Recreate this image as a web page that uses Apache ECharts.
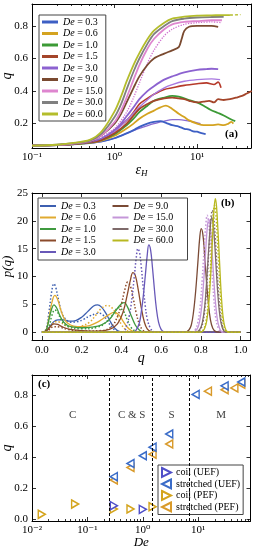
<!DOCTYPE html>
<html><head><meta charset="utf-8">
<script src="https://cdn.jsdelivr.net/npm/echarts@6/dist/echarts.min.js"></script>
<style>html,body{margin:0;padding:0;background:#fff}#c{width:257px;height:550px}</style>
</head><body><div id="c"></div>
<script>
// ---------------- Panel (a): q vs strain eps_H ----------------
const deLabels = ['0.3','0.6','1.0','1.5','3.0','9.0','15.0','30.0','60.0'];
const colorsA = ['#3d5fc4','#d4a320','#3c9a36','#a4452a','#8c62d0','#7a4a30','#de86cf','#808080','#b4bd2c'];
const epsA03 = [0.1,0.2,0.3,0.5,0.7,1.0,1.4,1.7,2.0,2.5,3.0,3.6,4.2,5,6,7,8,9,10,11,12.7];
const qA03   = [0.065,0.068,0.072,0.08,0.09,0.11,0.14,0.16,0.18,0.2,0.21,0.215,0.205,0.19,0.182,0.168,0.163,0.152,0.15,0.143,0.135];
const epsA06 = [0.1,0.2,0.3,0.5,0.7,1.0,1.4,1.7,2.0,2.5,3.0,3.6,4.2,5,6,7,8,10,12,15,18,21,24,26,27.5];
const qA06   = [0.065,0.068,0.073,0.082,0.095,0.125,0.17,0.2,0.23,0.26,0.28,0.3,0.31,0.29,0.26,0.24,0.22,0.2,0.19,0.19,0.195,0.19,0.2,0.21,0.2];
const epsA10 = [0.1,0.2,0.3,0.5,0.7,1.0,1.4,1.7,2.0,2.5,3,4,5,6,8,10,12,14.5,18,21,26,29];
const qA10   = [0.065,0.068,0.073,0.083,0.1,0.135,0.19,0.23,0.27,0.31,0.34,0.36,0.37,0.365,0.345,0.33,0.31,0.285,0.265,0.25,0.225,0.215];
const epsA15 = [0.1,0.2,0.3,0.5,0.7,1.0,1.4,1.7,2.0,2.5,3,4,5,6,7,8,10,12,14,16,18,21,25,30,35,40,46];
const qA15   = [0.065,0.068,0.073,0.084,0.1,0.14,0.2,0.25,0.29,0.32,0.34,0.355,0.36,0.355,0.35,0.34,0.33,0.335,0.34,0.33,0.35,0.345,0.35,0.36,0.37,0.385,0.4];
const epsA30 = [0.1,0.2,0.3,0.5,0.7,1.0,1.2,1.4,1.7,2.0,2.5,3,4,5,7,10,13,15,18];
const qA30   = [0.065,0.068,0.074,0.087,0.11,0.16,0.2,0.245,0.3,0.35,0.4,0.43,0.47,0.49,0.515,0.53,0.535,0.537,0.535];
const epsA90 = [0.1,0.2,0.3,0.5,0.7,1.0,1.2,1.4,1.7,2.0,2.5,3,4,5,6,6.5,7,8,10,12,15,18];
const qA90   = [0.065,0.069,0.075,0.09,0.13,0.2,0.26,0.33,0.42,0.49,0.56,0.6,0.63,0.65,0.67,0.72,0.77,0.795,0.8,0.8,0.8,0.795];
const epsA150 = [0.1,0.2,0.3,0.5,0.7,1.0,1.2,1.4,1.7,2.0,2.5,3,4,5,7,10,15,20];
const qA150   = [0.065,0.069,0.076,0.092,0.13,0.21,0.28,0.36,0.47,0.56,0.66,0.72,0.78,0.81,0.825,0.83,0.835,0.835];
const epsA300 = [0.1,0.2,0.3,0.5,0.7,1.0,1.2,1.4,1.7,2.0,2.5,3,4,5,7,10,15,21];
const qA300   = [0.065,0.07,0.078,0.095,0.14,0.24,0.32,0.41,0.52,0.6,0.69,0.75,0.8,0.83,0.845,0.852,0.855,0.856];
const epsA600 = [0.1,0.2,0.3,0.5,0.7,1.0,1.2,1.4,1.7,2.0,2.5,3,4,5,7,10,15,21,25];
const qA600   = [0.065,0.07,0.08,0.1,0.153,0.275,0.367,0.459,0.561,0.633,0.718,0.771,0.82,0.845,0.857,0.863,0.865,0.867,0.867];
const epsA600ext = [25,29,33.6];
const qA600ext   = [0.867,0.868,0.87];
// additional (unlabelled) runs visible in panel (a)
const epsX1 = [0.1,0.3,0.5,0.7,1.0,1.4,1.7,2.0,2.5,3,4,5,7,10,13,16,18,19.5];
const qX1   = [0.065,0.073,0.085,0.1,0.16,0.22,0.27,0.32,0.355,0.38,0.41,0.42,0.435,0.445,0.45,0.44,0.455,0.42];
const epsX2 = [0.1,0.3,0.5,0.7,1.0,1.4,2.0,3,4,5,7,10,15,19];
const qX2   = [0.065,0.073,0.085,0.105,0.15,0.22,0.3,0.38,0.42,0.44,0.46,0.47,0.475,0.47];
const epsX3 = [0.7,1.0,1.4,1.7,2.0,2.5,3,4,5,7,10,15,20];
const qX3   = [0.12,0.17,0.27,0.36,0.45,0.57,0.65,0.74,0.78,0.81,0.82,0.825,0.82];
const epsX4 = [0.5,0.7,1.0,1.4,2.0,3,4,5,6,8,10,11];
const qX4   = [0.08,0.09,0.11,0.14,0.17,0.2,0.215,0.225,0.225,0.215,0.205,0.2];
const tickA = [0.1,1,10];
const yTickA = [0.2,0.4,0.6,0.8];

// ---------------- Panel (b): p(q) ----------------
const colorsB = ['#3d5fb0','#e0aa30','#3f9a3f','#8b4a2b','#6858b8','#7a4a35','#c496d8','#7e6a6a','#b8b820'];
const qB03  = [0,0.02,0.04,0.06,0.08,0.11,0.14,0.17,0.2,0.23,0.26,0.28,0.3,0.32,0.34,0.36,0.38,0.4,0.42,1.0];
const pB03  = [0,0.15,1.0,1.9,2.2,2.2,2.0,2.1,2.7,3.7,4.7,4.9,4.5,3.5,2.2,1.0,0.3,0.05,0,0];
const qB03d = [0,0.02,0.035,0.05,0.06,0.07,0.085,0.1,0.12,0.15,0.18,0.21,0.24,0.27,0.29,0.31,0.33,0.35,0.37,0.39,0.41,1.0];
const pB03d = [0,0.5,3.5,7.5,8.7,8.0,5.5,3.5,2.3,1.8,1.9,2.3,2.9,3.3,3.4,3.0,2.0,1.0,0.3,0.05,0,0];
const qB06  = [0,0.02,0.035,0.05,0.065,0.08,0.095,0.11,0.13,0.16,0.2,0.24,0.28,0.31,0.34,0.365,0.39,0.41,0.43,0.45,0.47,0.49,1.0];
const pB06  = [0,0.3,2.5,5.3,6.6,5.8,4.0,2.6,1.6,1.1,1.0,1.2,1.8,2.5,3.2,3.6,3.0,1.9,0.9,0.3,0.05,0,0];
const qB06d = [0,0.03,0.05,0.07,0.09,0.12,0.16,0.2,0.24,0.27,0.3,0.33,0.355,0.38,0.4,0.42,0.44,0.46,1.0];
const pB06d = [0,0.3,1.3,1.9,1.8,1.2,0.9,1.1,1.8,3.0,4.3,4.8,4.3,2.8,1.4,0.5,0.1,0,0];
const qB10  = [0,0.02,0.035,0.05,0.06,0.075,0.09,0.11,0.13,0.16,0.2,0.25,0.3,0.34,0.37,0.4,0.415,0.43,0.45,0.47,0.49,0.51,0.53,1.0];
const pB10  = [0,0.3,2.2,4.3,4.9,4.3,3.0,1.8,1.2,0.9,0.8,0.9,1.3,2.3,3.8,5.1,5.3,4.6,2.9,1.3,0.4,0.05,0,0];
const qB10d = [0,0.03,0.05,0.065,0.08,0.1,0.13,0.2,0.28,0.33,0.36,0.385,0.41,0.43,0.45,0.47,0.49,1.0];
const pB10d = [0,0.5,3.0,4.0,3.5,2.0,1.0,0.6,0.9,2.0,3.3,4.4,3.8,2.2,0.8,0.2,0,0];
const qB15  = [0,0.02,0.04,0.06,0.08,0.1,0.14,0.2,0.28,0.34,0.38,0.41,0.43,0.445,0.458,0.47,0.485,0.5,0.515,0.53,0.55,0.57,1.0];
const pB15  = [0,0.2,0.9,1.5,1.4,1.0,0.5,0.3,0.2,0.5,1.5,3.8,6.8,9.3,10.7,10.2,7.6,4.4,1.9,0.6,0.1,0,0];
const qB15d = [0,0.03,0.06,0.09,0.13,0.2,0.3,0.35,0.38,0.4,0.415,0.432,0.445,0.46,0.475,0.49,0.505,0.52,0.54,1.0];
const pB15d = [0,0.3,1.0,0.9,0.5,0.2,0.3,1.0,2.8,5.0,7.3,9.0,8.3,6.0,3.4,1.5,0.5,0.1,0,0];
const qB30  = [0,0.46,0.475,0.49,0.5,0.51,0.52,0.53,0.538,0.547,0.556,0.566,0.576,0.587,0.6,0.615,0.63,1.0];
const pB30  = [0,0,0.4,1.6,3.6,6.4,10.0,13.8,15.7,14.8,11.8,7.8,4.3,1.8,0.5,0.05,0,0];
const qB30d = [0,0.41,0.425,0.44,0.455,0.465,0.475,0.483,0.492,0.5,0.51,0.52,0.53,0.545,0.56,0.58,1.0];
const pB30d = [0,0.1,1.1,3.0,6.6,10.0,13.4,15.0,14.2,11.8,8.0,4.8,2.4,0.8,0.15,0,0];
const qB90  = [0,0.72,0.74,0.752,0.763,0.774,0.785,0.795,0.802,0.81,0.818,0.828,0.838,0.848,0.86,0.875,0.89,1.0];
const pB90  = [0,0,0.4,1.3,3.6,7.4,12.5,17.2,18.6,17.6,14.4,9.4,5.2,2.3,0.7,0.1,0,0];
const qB150 = [0,0.76,0.78,0.793,0.805,0.815,0.825,0.833,0.84,0.847,0.855,0.863,0.872,0.882,0.893,0.905,0.92,1.0];
const pB150 = [0,0,0.5,1.8,4.8,9.5,15.0,19.0,20.3,19.2,15.6,10.8,6.1,2.6,0.8,0.1,0,0];
const qB150d= [0,0.755,0.772,0.785,0.797,0.807,0.817,0.825,0.832,0.839,0.847,0.856,0.865,0.875,0.887,0.9,0.915,1.0];
const pB150d= [0,0,0.5,1.8,4.8,9.6,15.3,19.3,21.0,19.8,16.0,11.0,6.2,2.6,0.8,0.1,0,0];
const qB300 = [0,0.775,0.795,0.808,0.82,0.83,0.84,0.848,0.855,0.862,0.87,0.878,0.887,0.897,0.908,0.92,0.935,1.0];
const pB300 = [0,0,0.5,1.8,4.8,9.6,15.2,19.2,20.6,19.4,15.8,11.0,6.2,2.6,0.8,0.1,0,0];
const qB300d= [0,0.78,0.798,0.811,0.823,0.833,0.843,0.851,0.858,0.865,0.873,0.881,0.89,0.9,0.911,0.923,0.938,1.0];
const pB300d= [0,0,0.5,1.9,5.1,10.2,16.2,20.5,21.9,20.6,16.8,11.7,6.6,2.8,0.8,0.1,0,0];
const qB600 = [0,0.8,0.818,0.83,0.841,0.851,0.86,0.867,0.873,0.879,0.886,0.894,0.902,0.911,0.921,0.933,0.948,1.0];
const pB600 = [0,0,0.6,2.1,5.6,11.2,17.8,22.4,24.0,22.6,18.4,12.8,7.2,3.0,0.9,0.1,0,0];
const qB600d= [0,0.795,0.813,0.826,0.837,0.847,0.856,0.863,0.869,0.875,0.882,0.89,0.898,0.907,0.917,0.929,0.944,1.0];
const pB600d= [0,0,0.5,2.0,5.3,10.6,16.9,21.3,22.8,21.5,17.5,12.2,6.9,2.9,0.9,0.1,0,0];
const xTickB = [0,0.2,0.4,0.6,0.8,1.0];
const yTickB = [0,5,10,15,20,25];

// ---------------- Panel (c): q vs De ----------------
const deCoilUEF = [0.3,1.0];
const qCoilUEF  = [0.088,0.064];
const deStrUEF  = [0.3,0.6,1.0,1.5,3.0,9.0,30,60];
const qStrUEF   = [0.275,0.36,0.41,0.465,0.55,0.805,0.86,0.885];
const deCoilPEF = [0.015,0.06,0.3,0.6,1.5];
const qCoilPEF  = [0.032,0.098,0.066,0.066,0.081];
const deStrPEF  = [0.3,0.6,1.5,3.0,15,30,45,60];
const qStrPEF   = [0.253,0.334,0.42,0.485,0.826,0.835,0.847,0.87];
const boundaryDe = [0.25,1.5,7];
const regionNames = ['C','C & S','S','M'];
const regionDe = [0.054,0.63,3.3,26];
const regionQ = [0.67,0.67,0.67,0.67];
const tickC = [0.01,0.1,1,10];
const yTickC = [0,0.2,0.4,0.6,0.8];

// ---------------- build ----------------
const FF = "'Liberation Serif','DejaVu Serif',serif";
const zip = (a,b) => a.map((v,i)=>[v,b[i]]);
const minorLog = (lo, hi) => { const r=[]; for (let d=lo; d<=hi; d*=10) for (let k=2;k<=9;k++) r.push(+(k*d).toPrecision(3)); return r; };
const sup = {'-2':'10⁻²','-1':'10⁻¹','0':'10⁰','1':'10¹','2':'10²'};
const logFmt = v => sup[String(Math.round(Math.log10(v)))];

function xAx(grid, opt) {
  return Object.assign({
    gridIndex: grid, splitLine:{show:false}, nameMoveOverlap:false,
    axisLine:{show:true, onZero:false, lineStyle:{color:'#000', width:1}},
    axisTick:{show:true, inside:true, length:4, lineStyle:{color:'#000'}},
    axisLabel:{show:false}
  }, opt);
}
const lbl = (fmt, vals, margin) => ({show:true, customValues: vals, formatter: fmt, color:'#000', fontSize:11, fontFamily:FF, margin: margin});
const tk = (vals, len) => ({show:true, inside:true, length:len, customValues: vals, lineStyle:{color:'#000', width:0.8}});

const minorA = minorLog(0.1, 10);
const minorC = minorLog(0.01, 10);

const xAxis = [
  xAx(0,{type:'log', min:0.1, max:45, position:'bottom', axisLabel: lbl(logFmt, tickA, 4), axisTick: tk(tickA,4),
    name:'{e|ε}{h|H}', nameLocation:'middle', nameGap:14,
    nameTextStyle:{rich:{e:{fontSize:14, fontFamily:FF, fontStyle:'italic', color:'#000', lineHeight:16}, h:{fontSize:9, fontFamily:FF, fontStyle:'italic', color:'#000', lineHeight:9, verticalAlign:'bottom', padding:[6,0,0,0]}}}}),
  xAx(0,{type:'log', min:0.1, max:45, position:'top', axisTick: tk(tickA,4)}),
  xAx(1,{type:'log', min:0.1, max:45, position:'bottom', axisLine:{show:false}, axisTick: tk(minorA,2)}),
  xAx(1,{type:'log', min:0.1, max:45, position:'top', axisLine:{show:false}, axisTick: tk(minorA,2)}),
  xAx(2,{type:'value', min:-0.05, max:1.05, position:'bottom', axisLabel: lbl(v=>v.toFixed(1), xTickB, 5), axisTick: tk(xTickB,4),
    name:'q', nameLocation:'middle', nameGap:11, nameTextStyle:{fontSize:14, fontFamily:FF, fontStyle:'italic', color:'#000'}}),
  xAx(2,{type:'value', min:-0.05, max:1.05, position:'top', axisTick: tk(xTickB,4)}),
  xAx(3,{type:'log', min:0.01, max:88, position:'bottom', axisLabel: lbl(logFmt, tickC, 4), axisTick: tk(tickC,4),
    name:'De', nameLocation:'middle', nameGap:15, nameTextStyle:{fontSize:13, fontFamily:FF, fontStyle:'italic', color:'#000'}}),
  xAx(3,{type:'log', min:0.01, max:88, position:'top', axisTick: tk(tickC,4)}),
  xAx(4,{type:'log', min:0.01, max:88, position:'bottom', axisLine:{show:false}, axisTick: tk(minorC,2)}),
  xAx(4,{type:'log', min:0.01, max:88, position:'top', axisLine:{show:false}, axisTick: tk(minorC,2)})
];

function yAx(grid, opt) {
  return Object.assign({
    type:'value', gridIndex: grid, splitLine:{show:false}, nameMoveOverlap:false,
    axisLine:{show:true, onZero:false, lineStyle:{color:'#000', width:1}},
    axisLabel:{show:false}
  }, opt);
}
const yAxis = [
  yAx(0,{min:0.05, max:0.935, position:'left', axisLabel: lbl(v=>v.toFixed(1), yTickA, 4), axisTick: tk(yTickA,4),
    name:'q', nameLocation:'middle', nameGap:18, nameRotate:90, nameTextStyle:{fontSize:14, fontFamily:FF, fontStyle:'italic', color:'#000'}}),
  yAx(0,{min:0.05, max:0.935, position:'right', axisTick: tk(yTickA,4)}),
  yAx(1,{min:0, max:1, show:false}),
  yAx(2,{min:-1.4, max:25, position:'left', axisLabel: lbl(v=>String(v), yTickB, 4), axisTick: tk(yTickB,4),
    name:'p(q)', nameLocation:'middle', nameGap:18, nameRotate:90, nameTextStyle:{fontSize:13, fontFamily:FF, fontStyle:'italic', color:'#000'}}),
  yAx(2,{min:-1.4, max:25, position:'right', axisTick: tk(yTickB,4)}),
  yAx(3,{min:-0.011, max:0.93, position:'left', axisLabel: lbl(v=>v.toFixed(1), yTickC, 4), axisTick: tk(yTickC,4),
    name:'q', nameLocation:'middle', nameGap:18, nameRotate:90, nameTextStyle:{fontSize:14, fontFamily:FF, fontStyle:'italic', color:'#000'}}),
  yAx(3,{min:-0.011, max:0.93, position:'right', axisTick: tk(yTickC,4)}),
  yAx(4,{min:0, max:1, show:false})
];

const series = [];
const aEps = [epsA03,epsA06,epsA10,epsA15,epsA30,epsA90,epsA150,epsA300,epsA600];
const aQ   = [qA03,qA06,qA10,qA15,qA30,qA90,qA150,qA300,qA600];
const extraA = [
  {e:epsX4, q:qX4, c:'#8a6ad0', t:'solid', w:1.3},
  {e:epsX1, q:qX1, c:'#b63a2a', t:'solid', w:1.6},
  {e:epsX2, q:qX2, c:'#a878e0', t:'solid', w:1.4},
  {e:epsX3, q:qX3, c:'#d070d0', t:'dotted', w:1.3}
];
extraA.forEach((x,i)=>series.push({type:'line', name:'ax'+i, xAxisIndex:0, yAxisIndex:0, data:zip(x.e,x.q), showSymbol:false, smooth:0.3,
  lineStyle:{color:x.c, width:x.w, type:x.t}, itemStyle:{color:x.c}, silent:true}));
deLabels.forEach((d,i)=>series.push({type:'line', name:'a'+d, xAxisIndex:0, yAxisIndex:0, data:zip(aEps[i],aQ[i]), showSymbol:false, smooth:0.3,
  lineStyle:{color:colorsA[i], width:1.8}, itemStyle:{color:colorsA[i]}}));
series.push({type:'line', name:'a60ext', xAxisIndex:0, yAxisIndex:0, data:zip(epsA600ext,qA600ext), showSymbol:false,
  lineStyle:{color:colorsA[8], width:1.4, type:[3,2]}});
const bQ = [qB03,qB06,qB10,qB15,qB30,qB90,qB150,qB300,qB600];
const bP = [pB03,pB06,pB10,pB15,pB30,pB90,pB150,pB300,pB600];
const bQd = [qB03d,qB06d,qB10d,qB15d,qB30d,null,qB150d,qB300d,qB600d];
const bPd = [pB03d,pB06d,pB10d,pB15d,pB30d,null,pB150d,pB300d,pB600d];
deLabels.forEach((d,i)=>{
  if (bQd[i]) series.push({type:'line', name:'bd'+d, xAxisIndex:4, yAxisIndex:3, data:zip(bQd[i],bPd[i]), showSymbol:false, smooth:0.4,
    lineStyle:{color:colorsB[i], width:1.5, type:[1.5,2]}, silent:true});
  series.push({type:'line', name:'b'+d, xAxisIndex:4, yAxisIndex:3, data:zip(bQ[i],bP[i]), showSymbol:false, smooth:0.4,
    lineStyle:{color:colorsB[i], width:1.3}, itemStyle:{color:colorsB[i]}});
});
const RT = 'path://M0,0L10,5L0,10Z', LT = 'path://M10,0L0,5L10,10Z';
series.push({type:'line', name:'bounds', xAxisIndex:6, yAxisIndex:5, data:[], silent:true,
  markLine:{symbol:'none', silent:true, label:{show:false}, lineStyle:{color:'#000', type:[3,2], width:1},
    data: boundaryDe.map(v=>({xAxis:v}))}});
series.push({type:'scatter', name:'regions', xAxisIndex:6, yAxisIndex:5, symbolSize:0, silent:true,
  data: regionDe.map((v,i)=>({value:[v,regionQ[i]], name:regionNames[i]})),
  label:{show:true, position:'inside', formatter:p=>p.name, fontSize:11, fontFamily:FF, color:'#000'}});
const cSets = [
  ['coil (PEF)', deCoilPEF, qCoilPEF, RT, '#d4a41c'],
  ['stretched (PEF)', deStrPEF, qStrPEF, LT, '#d99a2a'],
  ['coil (UEF)', deCoilUEF, qCoilUEF, RT, '#4f4fc8'],
  ['stretched (UEF)', deStrUEF, qStrUEF, LT, '#3a6cc8']
];
cSets.forEach(s=>series.push({type:'scatter', name:s[0], xAxisIndex:6, yAxisIndex:5, data:zip(s[1],s[2]),
  symbol:s[3], symbolSize:[7,8], itemStyle:{color:'#fff', borderColor:s[4], borderWidth:1.5, opacity:1}}));

const legText = (w) => ({fontSize:10, fontFamily:FF, color:'#000', lineHeight:10, width:w,
  rich:{i:{fontSize:10, fontFamily:FF, fontStyle:'italic', color:'#000', lineHeight:10}, n:{fontSize:10, fontFamily:FF, color:'#000', lineHeight:10}}});
const deFmt = n => '{i|De}{n| = ' + n.replace(/^[ab]/,'') + '}';
const G = (o) => Object.assign({outerBoundsMode:'none', containLabel:false}, o);

const option = {
  animation:false, backgroundColor:'#fff',
  grid:[
    G({left:32, right:6, top:4, height:144}),
    G({left:32, right:6, top:4, height:144}),
    G({left:32, right:6.5, top:193, height:147}),
    G({left:32, right:6.5, top:375, height:146}),
    G({left:32, right:6.5, top:375, height:146})
  ],
  xAxis, yAxis, series,
  legend:[
    {data: deLabels.map(d=>'a'+d), left:39, top:15, orient:'vertical', icon:'rect', itemWidth:16, itemHeight:3, itemGap:1.5,
     formatter: deFmt, textStyle: legText(undefined), borderColor:'#444', borderWidth:1, padding:[2,3,2,3], selectedMode:false},
    {data: deLabels.map(d=>'b'+d), left:38, top:198, orient:'vertical', height:60, icon:'rect', itemWidth:16, itemHeight:2, itemGap:1.5,
     formatter: deFmt, textStyle: legText(50), borderColor:'#444', borderWidth:1, padding:[3,4,3,2], selectedMode:false},
    {data: ['coil (UEF)','stretched (UEF)','coil (PEF)','stretched (PEF)'], left:158, top:465, orient:'vertical', itemWidth:9, itemHeight:9, itemGap:0.5,
     textStyle:{fontSize:10, fontFamily:FF, color:'#000', lineHeight:10}, borderColor:'#444', borderWidth:1, padding:[2,3,2,3], selectedMode:false}
  ],
  graphic:[
    {type:'text', left:225, top:129, style:{text:'(a)', font:'bold 11px '+FF, fill:'#000'}},
    {type:'text', left:221, top:198, style:{text:'(b)', font:'bold 11px '+FF, fill:'#000'}},
    {type:'text', left:38, top:379, style:{text:'(c)', font:'bold 11px '+FF, fill:'#000'}}
  ]
};
const chart = echarts.init(document.getElementById('c'), null, {renderer:'canvas'});
chart.setOption(option);
</script></body></html>
